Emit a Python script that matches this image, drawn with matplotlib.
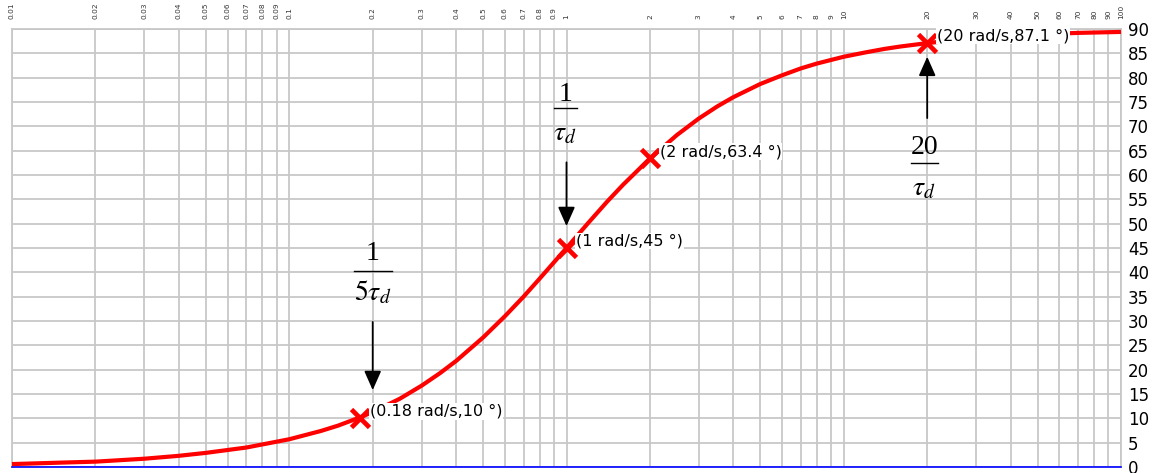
import matplotlib
matplotlib.use("Agg")
import matplotlib.pyplot as plt

# Phase of a first-order lead term, read across four decades
freq = [0.01, 0.015, 0.02, 0.03, 0.04, 0.05, 0.07, 0.1, 0.13, 0.15, 0.18, 0.2,
        0.25, 0.3, 0.35, 0.4, 0.5, 0.6, 0.7, 0.8, 1.0, 1.2, 1.4, 1.6, 2.0,
        2.5, 3.0, 3.5, 4.0, 5.0, 6.0, 7.0, 8.0, 10.0, 12.0, 14.0, 16.0, 20.0,
        25.0, 30.0, 40.0, 50.0, 70.0, 100.0]
phase = [0.6, 0.9, 1.1, 1.7, 2.3, 2.9, 4.0, 5.7, 7.4, 8.5, 10.2, 11.3,
         14.0, 16.7, 19.3, 21.8, 26.6, 31.0, 35.0, 38.7, 45.0, 50.2, 54.5, 58.0, 63.4,
         68.2, 71.6, 74.1, 76.0, 78.7, 80.5, 81.9, 82.9, 84.3, 85.2, 85.9, 86.4, 87.1,
         87.7, 88.1, 88.6, 88.9, 89.2, 89.4]

# Marked points and their labels
mark_freq = [0.18, 1.0, 2.0, 20.0]
mark_phase = [10.0, 45.0, 63.4, 87.1]
mark_text = ["(0.18 rad/s,10 °)", "(1 rad/s,45 °)", "(2 rad/s,63.4 °)", "(20 rad/s,87.1 °)"]

# Grid / tick positions
x_ticks = [0.01, 0.02, 0.03, 0.04, 0.05, 0.06, 0.07, 0.08, 0.09,
           0.1, 0.2, 0.3, 0.4, 0.5, 0.6, 0.7, 0.8, 0.9,
           1, 2, 3, 4, 5, 6, 7, 8, 9,
           10, 20, 30, 40, 50, 60, 70, 80, 90, 100]
x_labels = ["0.01", "0.02", "0.03", "0.04", "0.05", "0.06", "0.07", "0.08", "0.09",
            "0.1", "0.2", "0.3", "0.4", "0.5", "0.6", "0.7", "0.8", "0.9",
            "1", "2", "3", "4", "5", "6", "7", "8", "9",
            "10", "20", "30", "40", "50", "60", "70", "80", "90", "100"]
y_ticks = list(range(0, 95, 5))

plt.rcParams["mathtext.fontset"] = "stix"

fig = plt.figure(figsize=(11.54, 4.73), dpi=100)
ax = fig.add_axes([12 / 1154, 6 / 473, (1121 - 12) / 1154, (444 - 6) / 473])

ax.set_xscale("log")
ax.set_xlim(0.01, 100)
ax.set_ylim(0, 90)

grid_c = "#c8c8c8"
ax.set_xticks(x_ticks)
ax.set_xticks([], minor=True)
ax.set_xticklabels(x_labels, rotation=90, fontsize=5.3, color="#333333",
                   family="DejaVu Sans")
ax.xaxis.tick_top()
ax.tick_params(axis="x", length=0, pad=7)

ax.set_yticks(y_ticks)
ax.set_yticklabels([str(v) for v in y_ticks], fontsize=12, family="DejaVu Sans")
ax.yaxis.tick_right()
ax.tick_params(axis="y", length=0, pad=5)

ax.grid(True, which="major", color=grid_c, lw=1.3)
ax.set_axisbelow(True)
for side in ("top", "left", "right"):
    ax.spines[side].set_color(grid_c)
    ax.spines[side].set_linewidth(1.3)
ax.spines["bottom"].set_color("#0000ff")
ax.spines["bottom"].set_linewidth(1.2)

# Phase curve
ax.plot(freq, phase, color="#ff0000", lw=3.0, solid_capstyle="butt",
        solid_joinstyle="round", zorder=3, clip_on=False)

# Marked points
ax.plot(mark_freq, mark_phase, linestyle="none", marker="x", markersize=13,
        markeredgewidth=3.4, color="#ff0000", zorder=4)
for f, p, t in zip(mark_freq, mark_phase, mark_text):
    ax.annotate(t, xy=(f, p), xytext=(7, 5), textcoords="offset points",
                ha="left", va="center", fontsize=11.5, family="DejaVu Sans",
                color="black", zorder=5,
                bbox=dict(boxstyle="square,pad=0.05", fc="white", ec="none"))

# Corner-frequency annotations: stacked fraction plus arrow
arrow_kw = dict(arrowstyle="-|>,head_length=0.9,head_width=0.4", color="black",
                lw=1.3, shrinkA=0, shrinkB=0, mutation_scale=13)


def fraction(x, y_num, y_bar, y_den, num, den, half_width_factor):
    ax.text(x, y_num, num, ha="center", va="center", fontsize=20,
            family="Liberation Serif", zorder=5)
    ax.plot([x / half_width_factor, x * half_width_factor], [y_bar, y_bar],
            color="black", lw=1.0, zorder=5)
    ax.text(x, y_den, den, ha="center", va="center", fontsize=20, zorder=5)


fraction(0.2, 43.8, 40.2, 35.8, "1", r"$5\tau_{d}$", 1.17)
ax.annotate("", xy=(0.2, 15.8), xytext=(0.2, 29.8), arrowprops=arrow_kw, zorder=5)

fraction(0.99, 76.6, 73.7, 68.8, "1", r"$\tau_{d}$", 1.1)
ax.annotate("", xy=(1.0, 49.5), xytext=(1.0, 62.6), arrowprops=arrow_kw, zorder=5)

fraction(19.5, 65.6, 62.4, 57.5, "20", r"$\tau_{d}$", 1.12)
ax.annotate("", xy=(20.0, 84.3), xytext=(20.0, 71.7), arrowprops=arrow_kw, zorder=5)

fig.savefig("out.png", dpi=100)
